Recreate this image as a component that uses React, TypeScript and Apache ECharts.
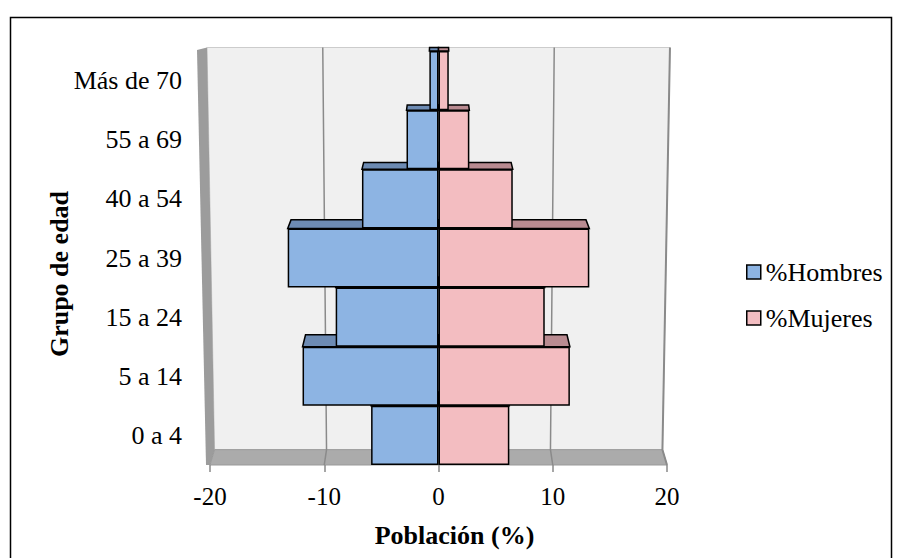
import React, { useEffect, useRef } from 'react';
import * as echarts from 'echarts';

const categories = ['0 a 4', '5 a 14', '15 a 24', '25 a 39', '40 a 54', '55 a 69', 'Más de 70'];
const hombres = [5.9, 11.9, 9.0, 13.2, 6.7, 2.8, 0.8];
const mujeres = [6.2, 11.5, 9.3, 13.2, 6.5, 2.7, 0.9];
const xTicks = [-20, -10, 0, 10, 20];
const gridValues = [-10, 0, 10];

const FONT = "'Liberation Serif', 'Times New Roman', serif";
const BLUE = '#8db4e3';
const BLUE_TOP = '#6d8bb3';
const PINK = '#f3bdc1';
const PINK_TOP = '#b98b91';

function depth(y: number, T: number) {
  return 0.0286 * (y - T + 122);
}

export default function App() {
  const ref = useRef<HTMLDivElement>(null);
  useEffect(() => {
    if (!ref.current) return;
    const chart = echarts.init(ref.current, undefined, { renderer: 'svg' });

    const wallsRender = (params: any, api: any) => {
      const cs = params.coordSys;
      const L = cs.x, T = cs.y, R = cs.x + cs.width, B = cs.y + cs.height;
      const H = B - T;
      const cx = api.coord([0, 0])[0];
      const s = (y: number) => 1.013 - (0.033 * (y - T)) / H;
      const back = (x: number, y: number) => [cx + (x - cx) * s(y), y - depth(y, T)];
      const tl = back(L, T), tr = back(R, T), bl = back(L, B), br = back(R, B);
      const children: any[] = [
        { type: 'polygon', shape: { points: [tl, tr, br, bl] }, style: { fill: '#f0f0f0', stroke: '#cccccc', lineWidth: 1 } },
        { type: 'polygon', shape: { points: [[L - 13, T - 1], tl, bl, [L, B], [L - 4, B]] }, style: { fill: '#9c9c9c' } },
        { type: 'polygon', shape: { points: [bl, br, [R, B], [L, B]] }, style: { fill: '#ababab', stroke: '#999999', lineWidth: 1 } },
      ];
      gridValues.forEach((v) => {
        const x = api.coord([v, 0])[0];
        children.push({ type: 'polyline', shape: { points: [back(x, T), back(x, B), [x, B]] }, style: { stroke: '#8a8a8a', lineWidth: 1.5, fill: 'none' } });
      });
      children.push({ type: 'polyline', shape: { points: [tr, br, [R, B]] }, style: { stroke: '#8a8a8a', lineWidth: 2, fill: 'none' } });
      return { type: 'group', children };
    };

    const topFace = (color: string) => (params: any, api: any) => {
      const v = api.value(0), i = api.value(1);
      const T = params.coordSys.y;
      const c0 = api.coord([0, i]);
      const x1 = api.coord([v, i])[0];
      const bh = api.size([0, 1])[1];
      const yt = c0[1] - bh / 2;
      const cx = c0[0];
      const d = depth(yt, T);
      const k = 0.022;
      return {
        type: 'polygon',
        shape: { points: [[cx, yt], [x1, yt], [x1 + (cx - x1) * k, yt - d], [cx, yt - d]] },
        style: { fill: color, stroke: '#000', lineWidth: 1.5 },
      };
    };

    chart.setOption({
      animation: false,
      backgroundColor: '#ffffff',
      grid: { left: 210, right: 234, top: 51, bottom: 93, containLabel: false },
      graphic: [
        { type: 'rect', z: -10, silent: true, shape: { x: 10.5, y: 17.5, width: 881, height: 560 }, style: { fill: 'none', stroke: '#000', lineWidth: 1.5 } },
      ],
      legend: {
        orient: 'vertical',
        left: 741,
        top: 254,
        itemWidth: 14,
        itemHeight: 14,
        itemGap: 20,
        icon: 'rect',
        textStyle: { fontFamily: FONT, fontSize: 26, lineHeight: 26, color: '#000' },
        data: [
          { name: '%Hombres', itemStyle: { color: BLUE, borderColor: '#000', borderWidth: 1.5 } },
          { name: '%Mujeres', itemStyle: { color: PINK, borderColor: '#000', borderWidth: 1.5 } },
        ],
      },
      xAxis: {
        type: 'value',
        min: xTicks[0],
        max: xTicks[xTicks.length - 1],
        interval: xTicks[1] - xTicks[0],
        axisLine: { show: false },
        axisTick: { show: true, length: 7, lineStyle: { color: '#888888', width: 1.5 } },
        splitLine: { show: false },
        axisLabel: { fontFamily: FONT, fontSize: 25, color: '#000', margin: 19 },
        name: 'Población (%)',
        nameLocation: 'middle',
        nameGap: 57,
        nameMoveOverlap: false,
        nameTextStyle: { fontFamily: FONT, fontSize: 26, fontWeight: 'bold', color: '#000', padding: [0, 0, 0, 32] },
      },
      yAxis: {
        type: 'category',
        data: categories,
        axisLine: { show: false },
        axisTick: { show: false },
        axisLabel: { fontFamily: FONT, fontSize: 26, color: '#000', margin: 28 },
        name: 'Grupo de edad',
        nameLocation: 'middle',
        nameRotate: 90,
        nameGap: 138,
        nameMoveOverlap: false,
        nameTextStyle: { fontFamily: FONT, fontSize: 26, fontWeight: 'bold', color: '#000', padding: [0, 32, 0, 0] },
      },
      series: [
        { type: 'custom', name: 'walls', z: 0, silent: true, clip: false, renderItem: wallsRender, data: [[0, 0]], encode: { x: 0, y: 1 } },
        { type: 'custom', name: 'topH', z: 1, silent: true, clip: false, renderItem: topFace(BLUE_TOP), data: hombres.map((v, i) => [-v, i]), encode: { x: 0, y: 1 } },
        { type: 'custom', name: 'topM', z: 1, silent: true, clip: false, renderItem: topFace(PINK_TOP), data: mujeres.map((v, i) => [v, i]), encode: { x: 0, y: 1 } },
        {
          type: 'bar', name: '%Hombres', z: 2, data: hombres.map((v) => -v),
          barGap: '-100%', barCategoryGap: '0%',
          itemStyle: { color: BLUE, borderColor: '#000', borderWidth: 1.5 },
        },
        {
          type: 'bar', name: '%Mujeres', z: 2, data: mujeres,
          barGap: '-100%', barCategoryGap: '0%',
          itemStyle: { color: PINK, borderColor: '#000', borderWidth: 1.5 },
        },
      ],
    });
    return () => chart.dispose();
  }, []);
  return <div ref={ref} style={{ position: 'fixed', left: 0, top: 0, width: 901, height: 558, background: '#fff' }} />;
}
